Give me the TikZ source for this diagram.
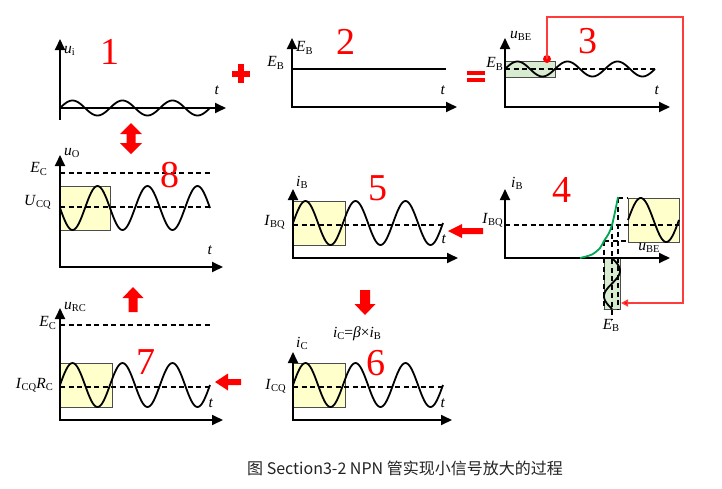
\documentclass[tikz,border=0pt]{standalone}
\usepackage{fontspec}
\setmainfont{Liberation Serif}
\newfontfamily\cjkfont{Noto Sans CJK SC}
\usetikzlibrary{arrows.meta}
\definecolor{boxy}{RGB}{255,255,204}
\definecolor{boxg}{RGB}{216,236,208}
\definecolor{curveg}{RGB}{0,166,81}
\definecolor{capgray}{RGB}{34,34,34}
\definecolor{linered}{RGB}{255,60,60}
\newcommand{\sbs}[1]{\raisebox{-0.3ex}{\fontsize{10.5}{12}\selectfont #1}}
\newcommand{\lb}[2]{\textit{#1}\sbs{#2}}
\tikzset{
  axis/.style={line width=1.8pt,-{Triangle[length=11pt,width=10pt]}},
  axes/.style={line width=1.8pt,{Triangle[length=11pt,width=10pt]}-{Triangle[length=11pt,width=10pt]}},
  wave/.style={line width=1.8pt,black},
  dashln/.style={line width=1.1pt,dash pattern=on 5pt off 3.5pt},
  ybox/.style={fill=boxy,draw=black!70,line width=0.8pt},
  gbox/.style={fill=boxg,draw=black!70,line width=0.8pt},
  lab/.style={inner sep=0pt,font=\fontsize{15.5}{18}\selectfont},
  num/.style={inner sep=0pt,text=red,font=\fontsize{38}{40}\selectfont},
}
\begin{document}
\begin{tikzpicture}[x=1pt,y=-1pt]
\useasboundingbox (0,0) rectangle (722,488);

% ---------- Panel 1 ----------
\draw[wave] plot[domain=0:150,samples=121] ({60+\x},{108-7.5*sin(7.2*\x)});
\draw[axis] (60,120) -- (60,39);
\draw[axis] (60,108) -- (226,108);
\node[lab,anchor=west] (p1y) at (64,51) {\lb{u}{i}};
\node[lab] (p1t) at (217,90) {\textit{t}};
\node[num] (n1) at (110,52) {1};

% plus
\fill[red] (232,70.5) rectangle (250,76.5);
\fill[red] (238,64) rectangle (244,83);

% ---------- Panel 2 ----------
\draw[line width=1.8pt] (292,69) -- (446,69);
\draw[axes] (292,38) -- (292,107) -- (457,107);
\node[lab,anchor=west] (p2y) at (296,48) {\lb{E}{B}};
\node[lab,anchor=east] (p2eb) at (284,63) {\lb{E}{B}};
\node[lab] (p2t) at (443,90) {\textit{t}};
\node[num] (n2) at (346,42) {2};

% equals
\fill[red] (467,70.5) rectangle (485,74.5);
\fill[red] (467,77.5) rectangle (485,81.5);

% ---------- Panel 3 ----------
\draw[gbox] (505,61) rectangle (555,77);
\draw[dashln] (505,69) -- (655,69);
\draw[wave] plot[domain=0:150,samples=121] ({505+\x},{69-7.5*sin(7.2*\x)});
\draw[axes] (505,38) -- (505,107) -- (670,107);
\node[lab,anchor=west] (p3y) at (510,36) {\lb{u}{BE}};
\node[lab,anchor=east] (p3eb) at (503,64) {\lb{E}{B}};
\node[lab] (p3t) at (657,90) {\textit{t}};
\node[num] (n3) at (588,41) {3};

% ---------- Panel 4 ----------
\draw[ybox] (628,198) rectangle (679,242);
\draw[gbox] (604,258) rectangle (620,309);
\draw[dashln] (505,225) -- (679,225);
\draw[dashln] (618,198) -- (628,198);
\draw[dashln] (604,241) -- (628,241);
\draw[dashln] (604,241) -- (604,309);
\draw[dashln] (612,225) -- (612,320);
\draw[dashln] (618,198) -- (618,309);
\draw[wave] plot[domain=0:51,samples=61] ({628+\x},{220-22*sin(7.0588*\x)});
\draw[wave] plot[domain=0:51,samples=61] ({612+8*sin(7.0588*\x)},{258+\x});
\draw[axes] (505,189) -- (505,258) -- (670,258);
\draw[curveg,line width=1.8pt] plot[smooth] coordinates {(580,258) (592,254.5) (600,248) (604,241) (609,233) (612,225) (615,212) (618,197)};
\node[lab,anchor=west] (p4y) at (511,183) {\lb{i}{B}};
\node[lab,anchor=east] (p4ibq) at (503,220) {\lb{I}{BQ}};
\node[lab] (p4x) at (649,248) {\lb{u}{BE}};
\node[lab] (p4eb) at (611,325) {\lb{E}{B}};
\node[num] (n4) at (562,190) {4};

% red feedback connector 3 -> 4
\node[circle,fill=red,inner sep=0pt,minimum size=8pt] (dot) at (547,59) {};
\coordinate (c1) at (683,17);
\coordinate (rt) at (621,303);
\draw[draw=linered,line width=1.3pt,-{Triangle[length=7pt,width=7pt,fill=red]}] (dot.center) |- (c1) |- (rt);

% ---------- Panel 5 ----------
\draw[ybox] (293,201) rectangle (345,245);
\draw[dashln] (293,225) -- (445,225);
\draw[wave] plot[domain=0:150,samples=121] ({293+\x},{223-22*sin(7.2*\x)});
\draw[axes] (293,189) -- (293,258) -- (458,258);
\node[lab,anchor=west] (p5y) at (296,182) {\lb{i}{B}};
\node[lab,anchor=east] (p5ibq) at (285,222) {\lb{I}{BQ}};
\node[lab] (p5t) at (444,239) {\textit{t}};
\node[num] (n5) at (378,188) {5};
\fill[red] (448,231) -- (462,224) -- (462,228) -- (483,228) -- (483,234) -- (462,234) -- (462,238) -- cycle;

% ---------- Panel 8 ----------
\draw[ybox] (60,186) rectangle (110,230);
\draw[dashln] (60,173) -- (212,173);
\draw[dashln] (60,207) -- (212,207);
\draw[wave] plot[domain=0:150,samples=121] ({60+\x},{208+22*sin(7.2*\x)});
\draw[axes] (60,155) -- (60,267) -- (223,267);
\node[lab,anchor=west] (p8y) at (64,153) {\lb{u}{O}};
\node[lab,anchor=east] (p8ec) at (47,169) {\lb{E}{C}};
\node[lab,anchor=east] (p8ucq) at (51,202) {\lb{U}{CQ}};
\node[lab] (p8t) at (210,250) {\textit{t}};
\node[num] (n8) at (170,175) {8};

% double arrow 1 <-> 8
\fill[red] (131,123) -- (142,134) -- (135.5,134) -- (135.5,143) -- (142,143) -- (131,154) -- (120,143) -- (126.5,143) -- (126.5,134) -- (120,134) -- cycle;

% up arrow 7 -> 8
\fill[red] (133,287) -- (143.5,298) -- (137.5,298) -- (137.5,312) -- (128.5,312) -- (128.5,298) -- (122.5,298) -- cycle;

% ---------- Panel 7 ----------
\draw[ybox] (60,363) rectangle (112,407);
\draw[dashln] (60,325) -- (212,325);
\draw[dashln] (60,387) -- (212,387);
\draw[wave] plot[domain=0:150,samples=121] ({60+\x},{385-22*sin(7.2*\x)});
\draw[axes] (60,308) -- (60,420) -- (223,420);
\node[lab,anchor=west] (p7y) at (64,307) {\lb{u}{RC}};
\node[lab,anchor=east] (p7ec) at (56,323) {\lb{E}{C}};
\node[lab,anchor=east] (p7icq) at (53,385) {\textit{I}\sbs{CQ}\textit{R}\sbs{C}};
\node[lab] (p7t) at (211,403) {\textit{t}};
\node[num] (n7) at (146,362) {7};
\fill[red] (215,382) -- (228,373.5) -- (228,379) -- (241,379) -- (241,385) -- (228,385) -- (228,390.5) -- cycle;

% ---------- Panel 6 ----------
\draw[ybox] (293,363) rectangle (345,407);
\draw[dashln] (293,387) -- (445,387);
\draw[wave] plot[domain=0:150,samples=121] ({293+\x},{385-22*sin(7.2*\x)});
\draw[axes] (293,352) -- (293,420) -- (452,420);
\node[lab,anchor=west] (p6y) at (296,343) {\lb{i}{C}};
\node[lab,anchor=east] (p6icq) at (286,386) {\lb{I}{CQ}};
\node[lab] (p6t) at (443,403) {\textit{t}};
\node[num] (n6) at (376,363) {6};
\node[lab] (eq) at (357,334) {\lb{i}{C}=\textit{β}×\lb{i}{B}};
\fill[red] (360,290) -- (370,290) -- (370,304) -- (375.5,304) -- (365,315) -- (354.5,304) -- (360,304) -- cycle;

% ---------- caption ----------
\node[inner sep=0pt,text=capgray,font=\cjkfont\fontsize{16}{18}\selectfont] (cap) at (405,468) {图 Section3-2 NPN 管实现小信号放大的过程};
\end{tikzpicture}
\end{document}
